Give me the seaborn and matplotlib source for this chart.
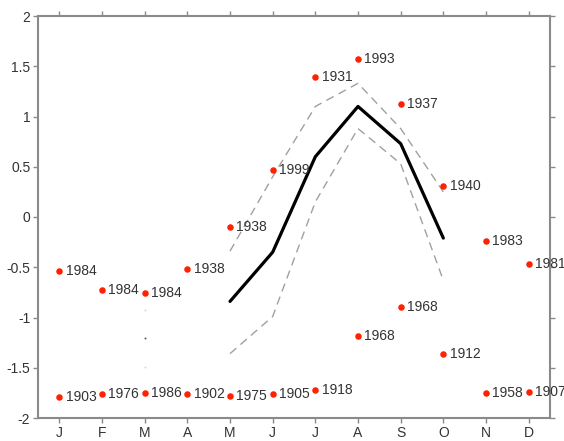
import numpy as np
import pandas as pd
import matplotlib
matplotlib.use("Agg")
import matplotlib.pyplot as plt
import seaborn as sns

months = ['J', 'F', 'M', 'A', 'M', 'J', 'J', 'A', 'S', 'O', 'N', 'D']
max_vals = [-0.54, -0.73, -0.76, -0.52, -0.10, 0.47, 1.39, 1.57, 1.12, 0.31, -0.24, -0.47]
max_years = [1984, 1984, 1984, 1938, 1938, 1999, 1931, 1993, 1937, 1940, 1983, 1981]
min_vals = [-1.79, -1.765, -1.755, -1.765, -1.78, -1.76, -1.72, -1.18, -0.90, -1.36, -1.75, -1.74]
min_years = [1903, 1976, 1986, 1902, 1975, 1905, 1918, 1968, 1968, 1912, 1958, 1907]
mean_vals = [np.nan, np.nan, -1.20, np.nan, -0.84, -0.35, 0.60, 1.10, 0.73, -0.21, np.nan, np.nan]
upper_vals = [np.nan, np.nan, -0.93, np.nan, -0.34, 0.40, 1.10, 1.33, 0.88, 0.25, np.nan, np.nan]
lower_vals = [np.nan, np.nan, -1.49, np.nan, -1.36, -0.99, 0.15, 0.88, 0.53, -0.63, np.nan, np.nan]

sns.set_style("ticks")
plt.rcParams['font.family'] = ['Liberation Sans', 'DejaVu Sans']

fig = plt.figure(figsize=(5.64, 4.41), dpi=100)
ax = fig.add_axes([38 / 564, 1 - 418 / 441, 512 / 564, 402 / 441])

x = np.arange(1, 13)
df = pd.DataFrame({'x': x, 'mean': mean_vals, 'upper': upper_vals, 'lower': lower_vals,
                   'max': max_vals, 'min': min_vals})


def runs(col):
    vals = df[col].to_numpy()
    segs, cur = [], []
    for i, v in enumerate(vals):
        if np.isnan(v):
            if cur:
                segs.append(cur)
            cur = []
        else:
            cur.append(i)
    if cur:
        segs.append(cur)
    return segs


styles = {
    'mean': dict(color='black', lw=2.3, ls='-', ms_color='#555555'),
    'upper': dict(color='#a0a0a0', lw=1.0, ls=(0, (6, 4)), ms_color='#d8d8d8'),
    'lower': dict(color='#a0a0a0', lw=1.0, ls=(0, (6, 4)), ms_color='#d8d8d8'),
}
for col, st in styles.items():
    for seg in runs(col):
        sub = df.iloc[seg]
        if len(seg) > 1:
            sns.lineplot(data=sub, x='x', y=col, ax=ax, color=st['color'],
                         linewidth=st['lw'], linestyle=st['ls'], sort=False)
        else:
            ax.scatter(sub['x'], sub[col], s=2, color=st['ms_color'], zorder=3, linewidths=0)

sns.scatterplot(data=df, x='x', y='max', ax=ax, color='#ff2200', s=22, linewidth=0, zorder=4)
sns.scatterplot(data=df, x='x', y='min', ax=ax, color='#ff2200', s=22, linewidth=0, zorder=4)

for xi, v, yr in zip(x, max_vals, max_years):
    ax.annotate(str(yr), (xi, v), xytext=(4.5, 0), textcoords='offset points',
                va='center', ha='left', fontsize=10, color='#333333', annotation_clip=False)
for xi, v, yr in zip(x, min_vals, min_years):
    ax.annotate(str(yr), (xi, v), xytext=(4.5, 0), textcoords='offset points',
                va='center', ha='left', fontsize=10, color='#333333', annotation_clip=False)

ax.set_xlim(0.5, 12.5)
ax.set_ylim(-2, 2)
ax.set_xticks(x)
ax.set_xticklabels(months)
yt = np.arange(-2, 2.01, 0.5)
ax.set_yticks(yt)
ax.set_yticklabels(['%g' % t for t in yt])
ax.set_xlabel('')
ax.set_ylabel('')

for s in ax.spines.values():
    s.set_visible(True)
    s.set_color('#8a8a8a')
    s.set_linewidth(1.5)
ax.tick_params(axis='both', which='both', direction='out', length=3.5, width=1,
               color='#8a8a8a', labelcolor='#333333', labelsize=10, pad=2,
               top=True, right=True, labeltop=False, labelright=False)

fig.savefig('out.png', dpi=100)
